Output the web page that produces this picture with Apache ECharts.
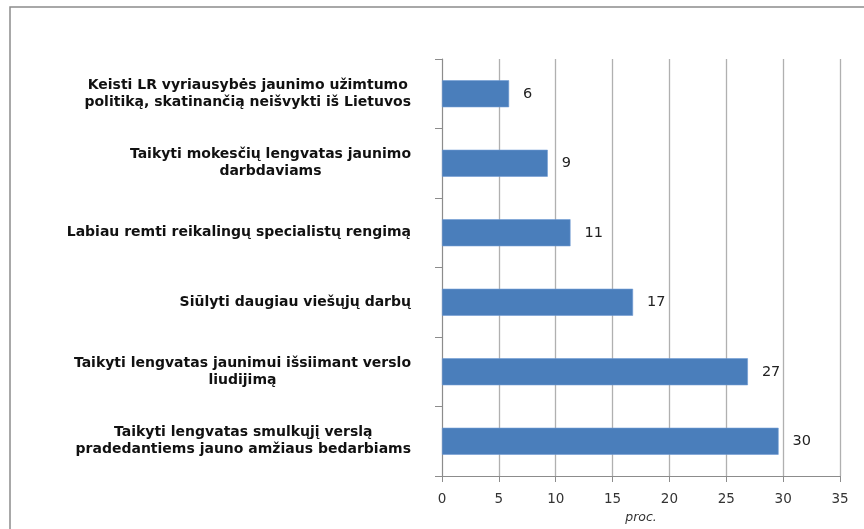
<!DOCTYPE html>
<html>
<head>
<meta charset="utf-8">
<script src="https://cdn.jsdelivr.net/npm/echarts@6/dist/echarts.min.js"></script>
<style>
html,body{margin:0;padding:0;background:#fff;}
#c{width:864px;height:529px;}
</style>
</head>
<body>
<div id="c"></div>
<script>
const categories = [
  "Keisti LR vyriausybės jaunimo užimtumo\npolitiką, skatinančią neišvykti iš Lietuvos",
  "Taikyti mokesčių lengvatas jaunimo\ndarbdaviams",
  "Labiau remti reikalingų specialistų rengimą",
  "Siūlyti daugiau viešųjų darbų",
  "Taikyti lengvatas jaunimui išsiimant verslo\nliudijimą",
  "Taikyti lengvatas smulkųjį verslą\npradedantiems jauno amžiaus bedarbiams"
];
const values = [5.9, 9.3, 11.3, 16.8, 26.9, 29.6];
const xTicks = [0, 5, 10, 15, 20, 25, 30, 35];
const xName = "proc.";

const chart = echarts.init(document.getElementById('c'));
chart.setOption({
  animation: false,
  backgroundColor: '#fff',
  graphic: [{
    type: 'rect',
    shape: {x: 10, y: 7, width: 1000, height: 700},
    style: {fill: 'none', stroke: '#8c8c8c', lineWidth: 1.5},
    silent: true
  }],
  grid: {left: 442, right: 24, top: 59, bottom: 52, containLabel: false},
  xAxis: {
    type: 'value',
    min: xTicks[0],
    max: xTicks[xTicks.length - 1],
    interval: 5,
    name: xName,
    nameLocation: 'middle',
    nameGap: 35,
    nameTextStyle: {fontFamily: 'DejaVu Sans', fontStyle: 'italic', fontSize: 12.5, color: '#333'},
    axisLine: {show: true, lineStyle: {color: '#8c8c8c', width: 1}},
    axisTick: {show: true, length: 6, lineStyle: {color: '#8c8c8c'}},
    axisLabel: {margin: 16, fontFamily: 'DejaVu Sans', fontSize: 13.5, color: '#333'},
    splitLine: {show: true, lineStyle: {color: '#b0b0b0', width: 1.3}}
  },
  yAxis: {
    type: 'category',
    data: categories,
    inverse: true,
    axisLine: {show: true, lineStyle: {color: '#8c8c8c', width: 1}},
    axisTick: {show: true, length: 7, alignWithLabel: false, lineStyle: {color: '#8c8c8c'}},
    axisLabel: {
      margin: 31,
      formatter: function (v) {
        return v.split('\n').map(l => '{c|' + l + '}').join('\n');
      },
      rich: {
        c: {align: 'center', fontFamily: 'DejaVu Sans', fontWeight: 'bold', fontSize: 14, color: '#111', lineHeight: 17}
      }
    },
    splitLine: {show: false}
  },
  series: [{
    type: 'bar',
    data: values,
    barWidth: 27,
    itemStyle: {color: '#4a7ebb', borderColor: '#6f9bd3', borderWidth: 0.6},
    label: {
      show: true,
      position: 'right',
      distance: 14,
      formatter: p => String(Math.round(p.value)),
      fontFamily: 'DejaVu Sans',
      fontSize: 14.5,
      color: '#222'
    }
  }]
});
</script>
</body>
</html>
